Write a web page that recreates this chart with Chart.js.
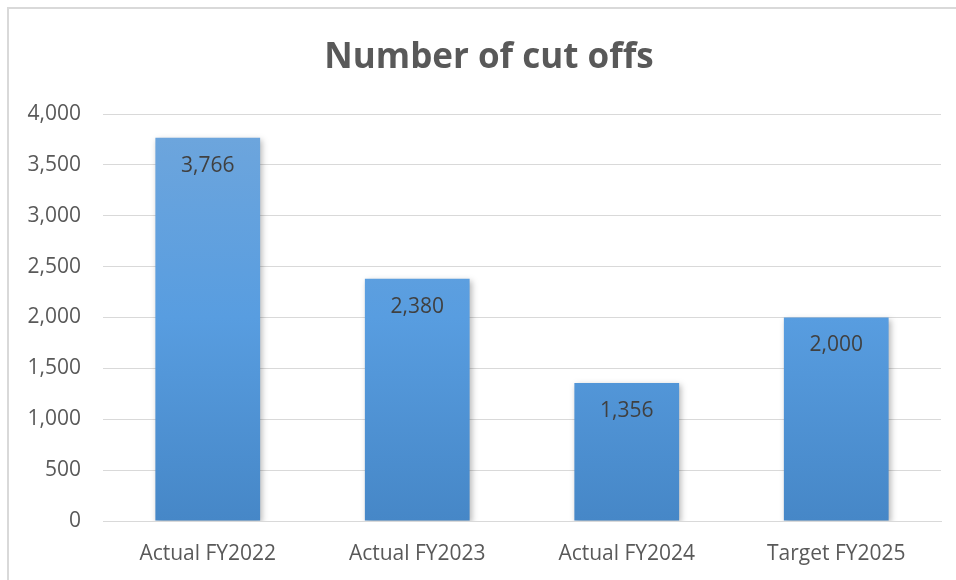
<!DOCTYPE html>
<html>
<head>
<meta charset="utf-8">
<script src="https://cdn.jsdelivr.net/npm/chart.js@4/dist/chart.umd.min.js"></script>
<style>
html,body{margin:0;padding:0;background:#fff;overflow:hidden;}
#frame{position:absolute;left:7px;top:7px;width:1000px;height:1000px;border:2px solid #d9d9d9;}
#wrap{position:absolute;left:0;top:0;width:956px;height:580px;}
</style>
</head>
<body>
<div id="frame"></div>
<div id="wrap"><canvas id="c" width="956" height="580"></canvas></div>
<script>
const categories = ["Actual FY2022", "Actual FY2023", "Actual FY2024", "Target FY2025"];
const cutOffs = [3766, 2380, 1356, 2000];
const chartTitle = "Number of cut offs";

const fmt = v => v.toLocaleString('en-US');

const valueLabels = {
  id: 'valueLabels',
  afterDatasetsDraw(chart) {
    const ctx = chart.ctx;
    const meta = chart.getDatasetMeta(0);
    ctx.save();
    ctx.font = '21px "Open Sans"';
    ctx.fillStyle = '#404040';
    ctx.textAlign = 'center';
    ctx.textBaseline = 'middle';
    meta.data.forEach((el, i) => {
      ctx.fillText(fmt(chart.data.datasets[0].data[i]), el.x, el.y + 28);
    });
    ctx.restore();
  }
};

const barShadow = {
  id: 'barShadow',
  beforeDatasetsDraw(chart) {
    const ctx = chart.ctx;
    ctx.save();
    ctx.shadowColor = 'rgba(0,0,0,0.28)';
    ctx.shadowBlur = 6;
    ctx.shadowOffsetX = 2;
    ctx.shadowOffsetY = 2;
  },
  afterDatasetsDraw(chart) {
    chart.ctx.restore();
  }
};

// nudge the title box so the title is centred like the original
const titleShift = {
  id: 'titleShift',
  afterLayout(chart) {
    const t = chart.titleBlock;
    if (t) { t.left += 22; }
  }
};

function gradientFor(ctx) {
  const chart = ctx.chart;
  const area = chart.chartArea;
  if (!area) return '#5b9bd5';
  const el = ctx.element;
  const top = el && el.y !== undefined ? el.y : area.top;
  const bottom = el && el.base !== undefined ? el.base : area.bottom;
  const g = chart.ctx.createLinearGradient(0, top, 0, bottom);
  g.addColorStop(0, '#6fa6dc');
  g.addColorStop(0.5, '#589de0');
  g.addColorStop(1, '#4687c7');
  return g;
}

new Chart(document.getElementById('c'), {
  type: 'bar',
  data: {
    labels: categories,
    datasets: [{
      data: cutOffs,
      backgroundColor: gradientFor,
      borderWidth: 0,
      barPercentage: 0.5,
      categoryPercentage: 1.0
    }]
  },
  plugins: [barShadow, valueLabels, titleShift],
  options: {
    responsive: false,
    animation: false,
    devicePixelRatio: 1,
    layout: { padding: { left: 15, right: 15, top: 18, bottom: 0 } },
    plugins: {
      legend: { display: false },
      tooltip: { enabled: false },
      title: {
        display: true,
        text: chartTitle,
        color: '#595959',
        font: { family: '"Open Sans"', size: 35, weight: 'bold' },
        padding: { top: 19, bottom: 35 }
      }
    },
    scales: {
      x: {
        grid: { display: false },
        border: { display: true, color: '#d9d9d9', width: 1 },
        ticks: { color: '#595959', font: { family: '"Open Sans"', size: 21 }, padding: 12,
                 maxRotation: 0, minRotation: 0, autoSkip: false },
        afterFit: s => { s.height = 59; }
      },
      y: {
        min: 0, max: 4000,
        ticks: { stepSize: 500, color: '#595959', font: { family: '"Open Sans"', size: 21 }, padding: 22,
                 callback: v => fmt(v) },
        grid: { color: '#d9d9d9', lineWidth: 1, drawTicks: false },
        border: { display: false },
        afterFit: s => { s.width = 88; }
      }
    }
  }
});
</script>
</body>
</html>
